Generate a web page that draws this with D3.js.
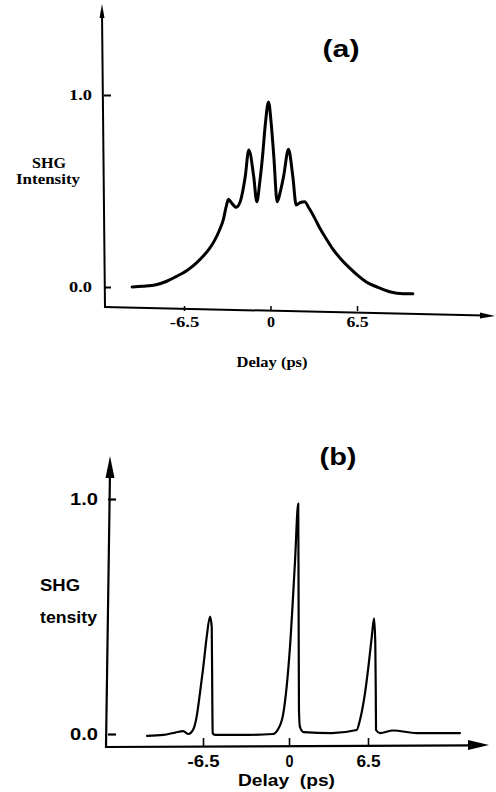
<!DOCTYPE html>
<html>
<head>
<meta charset="utf-8">
<script src="https://cdn.jsdelivr.net/npm/d3@7"></script>
<style>
  html, body { margin: 0; padding: 0; background: #fff; }
  svg { display: block; }
</style>
</head>
<body>
<div id="chart"></div>
<script>
// (a) autocorrelation trace, delay (ps) vs normalised SHG intensity
const delayA = [-10.4, -9.6, -8.6, -7.8, -7.1, -6.3, -5.6, -5.0, -4.59, -4.2, -3.83, -3.55, -3.33, -3.16,
  -2.95, -2.58, -2.25, -1.9, -1.63, -1.26, -1.03, -0.8, -0.6, -0.38, -0.15, 0.05, 0.25, 0.5, 0.75,
  0.98, 1.35, 1.68, 1.93, 2.25, 2.56, 2.9, 3.31, 3.68, 4.2, 4.66, 5.3, 5.94, 6.6, 7.2, 8.0, 8.95, 10.0, 10.7];
const intensityA = [0.0, 0.004, 0.012, 0.03, 0.054, 0.085, 0.123, 0.165, 0.2, 0.243, 0.297, 0.35, 0.418, 0.457,
  0.44, 0.415, 0.45, 0.574, 0.714, 0.574, 0.444, 0.55, 0.679, 0.854, 0.964, 0.854, 0.679, 0.444, 0.5,
  0.574, 0.717, 0.574, 0.427, 0.44, 0.444, 0.41, 0.36, 0.31, 0.25, 0.2, 0.145, 0.1, 0.058, 0.026, 0.0, -0.025, -0.035, -0.035];

// (b) three narrow peaks
const delayB = [-10.73, -9.5, -8.6, -8.0, -7.6, -7.23, -6.98, -6.73, -6.48, -6.22, -5.97, -5.84, -5.8, -5.77, -5.59,
  -3.5, -1.21, -0.83, -0.43, 0.08, 0.49, 0.76, 0.79, 0.82, 0.9, 1.2, 3.5,
  5.57, 5.84, 6.25, 6.53, 6.81, 7.0, 7.1, 7.14, 7.16, 7.49, 8.56, 10.5, 14.07];
const intensityB = [-0.008, -0.004, 0.006, 0.012, 0.0, 0.02, 0.074, 0.174, 0.285, 0.413, 0.5, 0.457, 0.174, 0.004, -0.004,
  -0.004, 0.0, 0.02, 0.088, 0.37, 0.73, 0.98, 0.55, 0.1, 0.03, 0.008, 0.004,
  0.017, 0.06, 0.173, 0.285, 0.413, 0.492, 0.386, 0.174, 0.017, 0.004, 0.015, 0.004, 0.004];

const delayTicks = [-6.5, 0, 6.5];
const intensityTicks = [0, 1];

const width = 496;
const height = 792;

const svg = d3.select('#chart')
  .append('svg')
  .attr('width', width)
  .attr('height', height);

svg.append('rect').attr('width', width).attr('height', height).attr('fill', '#fff');

const serif = '"Liberation Serif", "Times New Roman", serif';
const sans = '"Liberation Sans", Arial, Helvetica, sans-serif';

function stretch(sel, w) {
  sel.attr('textLength', w).attr('lengthAdjust', 'spacingAndGlyphs');
}

// ---------- panel (a) ----------
const xA = d3.scaleLinear().domain([-6.5, 6.5]).range([184, 357]);
const yA = d3.scaleLinear().domain([0, 1]).range([287, 95]);

// hand drawn axes: slightly tilted, small arrows
svg.append('path')
  .attr('d', 'M105,308 L102,12')
  .attr('stroke', '#000').attr('stroke-width', 2).attr('fill', 'none');
svg.append('path')
  .attr('d', 'M102,4 L99.5,18 L104.5,18 Z')
  .attr('fill', '#000');
svg.append('path')
  .attr('d', 'M104,307 L484,315.5')
  .attr('stroke', '#000').attr('stroke-width', 2).attr('fill', 'none');
svg.append('path')
  .attr('d', 'M495,316 L480,312.5 L480,318.5 Z')
  .attr('fill', '#000');

const axYA = svg.append('g')
  .attr('transform', 'translate(104,0)')
  .call(d3.axisLeft(yA).tickValues(intensityTicks).tickSize(-7).tickPadding(12).tickFormat(d3.format('.1f')));
axYA.select('.domain').remove();
axYA.selectAll('line').attr('stroke-width', 2);
axYA.selectAll('text')
  .attr('font-family', serif).attr('font-weight', 'bold').attr('font-size', 14)
  .call(stretch, 23);

const axXA = svg.append('g')
  .attr('transform', 'translate(0,311)')
  .call(d3.axisBottom(xA).tickValues(delayTicks).tickSize(-5).tickPadding(6).tickFormat(d => String(d)));
axXA.select('.domain').remove();
axXA.selectAll('line').attr('stroke-width', 1.5);
axXA.selectAll('text')
  .attr('font-family', serif).attr('font-weight', 'bold').attr('font-size', 14)
  .each(function(d) {
    const s = String(d);
    d3.select(this).call(stretch, s === '0' ? 8 : s.length * 7.4);
  });

const lineA = d3.line()
  .x((d, i) => xA(delayA[i]))
  .y((d, i) => yA(intensityA[i]))
  .curve(d3.curveMonotoneX);

svg.append('path')
  .datum(intensityA)
  .attr('d', lineA)
  .attr('fill', 'none')
  .attr('stroke', '#000')
  .attr('stroke-width', 3)
  .attr('stroke-linejoin', 'round')
  .attr('stroke-linecap', 'round');

svg.append('text')
  .attr('x', 49).attr('y', 168)
  .attr('text-anchor', 'middle')
  .attr('font-family', serif).attr('font-weight', 'bold').attr('font-size', 15)
  .text('SHG')
  .call(stretch, 34);
svg.append('text')
  .attr('x', 48).attr('y', 184)
  .attr('text-anchor', 'middle')
  .attr('font-family', serif).attr('font-weight', 'bold').attr('font-size', 15)
  .text('Intensity')
  .call(stretch, 64);
svg.append('text')
  .attr('x', 272).attr('y', 367)
  .attr('text-anchor', 'middle')
  .attr('font-family', serif).attr('font-weight', 'bold').attr('font-size', 15)
  .text('Delay (ps)')
  .call(stretch, 71);
svg.append('text')
  .attr('x', 341).attr('y', 57)
  .attr('text-anchor', 'middle')
  .attr('font-family', sans).attr('font-weight', 'bold').attr('font-size', 24)
  .text('(a)')
  .call(stretch, 37);

// ---------- panel (b) ----------
const xB = d3.scaleLinear().domain([-6.5, 0, 6.5]).range([203, 289, 368]);
const yB = d3.scaleLinear().domain([0, 1]).range([734, 499]);

svg.append('path')
  .attr('d', 'M106,747 L110,472')
  .attr('stroke', '#000').attr('stroke-width', 2.2).attr('fill', 'none');
svg.append('path')
  .attr('d', 'M110,456 L105.5,478 L114.5,478 Z')
  .attr('fill', '#000');
svg.append('path')
  .attr('d', 'M105,747 L472,745.3')
  .attr('stroke', '#000').attr('stroke-width', 2.2).attr('fill', 'none');
svg.append('path')
  .attr('d', 'M489,745 L468,740 L468,750 Z')
  .attr('fill', '#000');

const axYB = svg.append('g')
  .attr('transform', 'translate(108,0)')
  .call(d3.axisLeft(yB).tickValues(intensityTicks).tickSize(-8).tickPadding(10).tickFormat(d3.format('.1f')));
axYB.select('.domain').remove();
axYB.selectAll('line').attr('stroke-width', 2.2);
axYB.selectAll('text')
  .attr('font-family', sans).attr('font-weight', 'bold').attr('font-size', 17)
  .call(stretch, 28);

const axXB = svg.append('g')
  .attr('transform', 'translate(0,746)')
  .call(d3.axisBottom(xB).tickValues(delayTicks).tickSize(-8).tickPadding(10).tickFormat(d => String(d)));
axXB.select('.domain').remove();
axXB.selectAll('line').attr('stroke-width', 1.6);
axXB.selectAll('text')
  .attr('font-family', sans).attr('font-weight', 'bold').attr('font-size', 16)
  .each(function(d) {
    const s = String(d);
    d3.select(this).call(stretch, s === '0' ? 8 : s.length * 8);
  });

const lineB = d3.line()
  .x((d, i) => xB(delayB[i]))
  .y((d, i) => yB(intensityB[i]))
  .curve(d3.curveMonotoneX);

svg.append('path')
  .datum(intensityB)
  .attr('d', lineB)
  .attr('fill', 'none')
  .attr('stroke', '#000')
  .attr('stroke-width', 2.2)
  .attr('stroke-linejoin', 'round')
  .attr('stroke-linecap', 'round');

svg.append('text')
  .attr('x', 40).attr('y', 591)
  .attr('font-family', sans).attr('font-weight', 'bold').attr('font-size', 16)
  .text('SHG')
  .call(stretch, 40);
svg.append('text')
  .attr('x', 40).attr('y', 623)
  .attr('font-family', sans).attr('font-weight', 'bold').attr('font-size', 16)
  .text('tensity')
  .call(stretch, 57);
svg.append('text')
  .attr('x', 238).attr('y', 786)
  .attr('font-family', sans).attr('font-weight', 'bold').attr('font-size', 17)
  .style('white-space', 'pre')
  .text('Delay  (ps)')
  .call(stretch, 97);
svg.append('text')
  .attr('x', 338).attr('y', 465)
  .attr('text-anchor', 'middle')
  .attr('font-family', sans).attr('font-weight', 'bold').attr('font-size', 24)
  .text('(b)')
  .call(stretch, 37);
</script>
</body>
</html>
